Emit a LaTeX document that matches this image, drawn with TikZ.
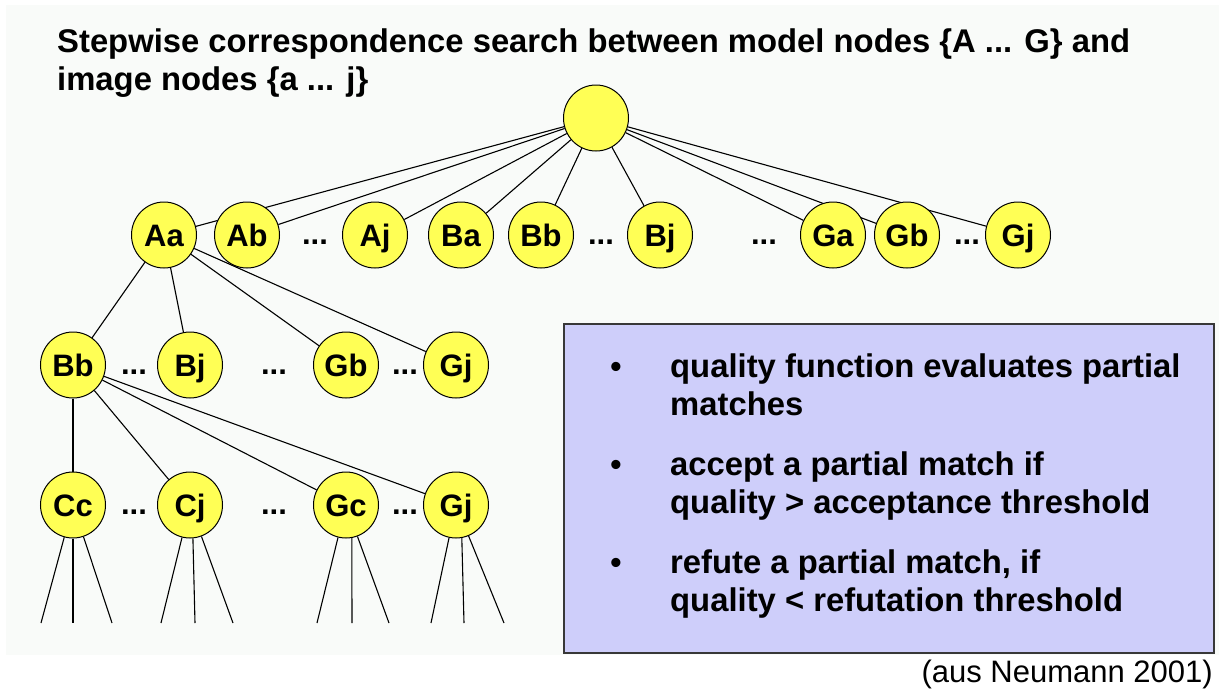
\documentclass[tikz,border=0pt]{standalone}
\usepackage{fontspec}
\setmainfont{Liberation Sans}
\usetikzlibrary{shapes.geometric}
\definecolor{nodeyellow}{RGB}{255,255,85}
\definecolor{boxfill}{RGB}{206,206,250}
\definecolor{bgpanel}{RGB}{249,251,249}
\pgfdeclarelayer{background}
\pgfsetlayers{background,main}
\begin{document}
\begin{tikzpicture}[x=1pt,y=-1pt,
  match/.style={ellipse,draw=black,line width=1pt,fill=nodeyellow,minimum width=65pt,minimum height=66pt,inner sep=0pt,text height=22pt,text depth=0pt,font=\fontsize{31}{31}\selectfont\bfseries},
  dots/.style={anchor=base,inner sep=0pt,font=\fontsize{31}{31}\selectfont\bfseries},
  edge/.style={line width=1.1pt,black},
  txt/.style={anchor=base west,inner sep=0pt,font=\fontsize{32.8}{32.8}\selectfont\bfseries},
  bul/.style={anchor=base,inner sep=0pt,font=\fontsize{32}{32}\selectfont\bfseries}]
\useasboundingbox (0,0) rectangle (1219,689);
\begin{pgfonlayer}{background}
\fill[white] (0,0) rectangle (1219,689);
\fill[bgpanel] (6,5) rectangle (1219,655);
\end{pgfonlayer}

% title
\node[txt] (t1) at (57,52) {Stepwise correspondence search between model nodes \{A ... G\} and};
\node[txt] (t2) at (57,90) {image nodes \{a ... j\}};

% root
\node[match] (root) at (596,118) {};

% row 1
\node[match] (Aa) at (164,235) {Aa};
\node[match] (Ab) at (247,235) {Ab};
\node[match] (Aj) at (375,235) {Aj};
\node[match] (Ba) at (461,235) {Ba};
\node[match] (Bb) at (541,235) {Bb};
\node[match] (Bj) at (660,235) {Bj};
\node[match] (Ga) at (833,235) {Ga};
\node[match] (Gb) at (907,235) {Gb};
\node[match] (Gj) at (1018,235) {Gj};
\node[dots] (d11) at (315,244) {...};
\node[dots] (d12) at (601,244) {...};
\node[dots] (d13) at (764,244) {...};
\node[dots] (d14) at (967,244) {...};

% row 2
\node[match] (Bb2) at (73,365) {Bb};
\node[match] (Bj2) at (190,365) {Bj};
\node[match] (Gb2) at (346,365) {Gb};
\node[match] (Gj2) at (456,365) {Gj};
\node[dots] (d21) at (134,374) {...};
\node[dots] (d22) at (274,374) {...};
\node[dots] (d23) at (405,374) {...};

% row 3
\node[match] (Cc3) at (73,505) {Cc};
\node[match] (Cj3) at (190,505) {Cj};
\node[match] (Gc3) at (346,505) {Gc};
\node[match] (Gj3) at (456,505) {Gj};
\node[dots] (d31) at (134,514) {...};
\node[dots] (d32) at (274,514) {...};
\node[dots] (d33) at (405,514) {...};

% free ends below row 3
\coordinate (e1) at (41,623); \coordinate (e2) at (73,623); \coordinate (e3) at (112,623);
\coordinate (e4) at (161,623); \coordinate (e5) at (195,623); \coordinate (e6) at (233,623);
\coordinate (e7) at (317,623); \coordinate (e8) at (352,623); \coordinate (e9) at (389,623);
\coordinate (e10) at (431,623); \coordinate (e11) at (464,623); \coordinate (e12) at (504,623);

\begin{pgfonlayer}{background}
\foreach \n in {Aa,Ab,Aj,Ba,Bb,Bj,Ga,Gb,Gj} \draw[edge] (root) -- (\n);
\foreach \n in {Bb2,Bj2,Gb2,Gj2} \draw[edge] (Aa) -- (\n);
\foreach \n in {Cc3,Cj3,Gc3,Gj3} \draw[edge] (Bb2) -- (\n);
\draw[edge] (Cc3) -- (e1); \draw[edge] (Cc3.south) -- (e2); \draw[edge] (Cc3) -- (e3);
\draw[edge] (Cj3) -- (e4); \draw[edge] (Cj3.-85) -- (e5); \draw[edge] (Cj3) -- (e6);
\draw[edge] (Gc3) -- (e7); \draw[edge] (Gc3.-80) -- (e8); \draw[edge] (Gc3) -- (e9);
\draw[edge] (Gj3) -- (e10); \draw[edge] (Gj3.-80) -- (e11); \draw[edge] (Gj3) -- (e12);
\end{pgfonlayer}

% box
\node[draw=black!78,line width=1.6pt,fill=boxfill,minimum width=650pt,minimum height=329pt,anchor=north west,inner sep=0pt] (box) at (563,323) {};
\node[bul] (b1) at (616,377) {•};
\node[txt] (l1) at (670,377) {quality function evaluates partial};
\node[txt] (l2) at (670,415) {matches};
\node[bul] (b2) at (616,475) {•};
\node[txt] (l3) at (670,475) {accept a partial match if};
\node[txt] (l4) at (670,513) {quality > acceptance threshold};
\node[bul] (b3) at (616,573) {•};
\node[txt] (l5) at (670,573) {refute a partial match, if};
\node[txt] (l6) at (670,611) {quality < refutation threshold};

\node[anchor=base east,inner sep=0pt,font=\fontsize{31}{31}\selectfont] (src) at (1213,682) {(aus Neumann 2001)};
\end{tikzpicture}
\end{document}
